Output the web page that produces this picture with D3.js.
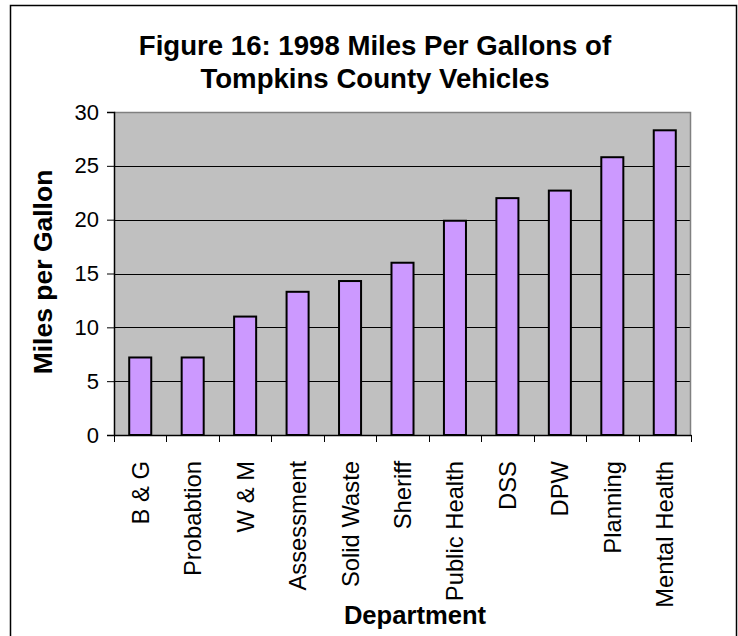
<!DOCTYPE html>
<html>
<head>
<meta charset="utf-8">
<script src="https://cdn.jsdelivr.net/npm/d3@7"></script>
<style>
  html, body { margin: 0; padding: 0; background: #fff; }
  svg { display: block; }
  text { font-family: "Liberation Sans", Arial, sans-serif; fill: #000; }
</style>
</head>
<body>
<svg id="chart" width="738" height="636"></svg>
<script>
// Department fuel economy, 1998
const departments = ["B & G", "Probabtion", "W & M", "Assessment", "Solid Waste", "Sheriff",
                     "Public Health", "DSS", "DPW", "Planning", "Mental Health"];
const milesPerGallon = [7.2, 7.2, 11.0, 13.3, 14.3, 16.0, 19.9, 22.0, 22.7, 25.8, 28.3];
const yTickValues = [0, 5, 10, 15, 20, 25, 30];
const titleLines = ["Figure 16: 1998 Miles Per Gallons of", "Tompkins County Vehicles"];

const svg = d3.select("#chart");
const plot = { left: 114, right: 691, top: 112, bottom: 435 };

// Outer chart frame
svg.append("rect")
  .attr("x", 10.5).attr("y", 5.5)
  .attr("width", 726).attr("height", 650)
  .attr("fill", "#fff").attr("stroke", "#000").attr("stroke-width", 1.5);

const x = d3.scaleBand().domain(departments).range([plot.left, plot.right]).padding(0);
const y = d3.scaleLinear().domain([0, 30]).range([plot.bottom, plot.top]);

// Plot area background
svg.append("rect")
  .attr("x", plot.left).attr("y", plot.top)
  .attr("width", plot.right - plot.left).attr("height", plot.bottom - plot.top)
  .attr("fill", "#C0C0C0");

// Horizontal gridlines
svg.append("g")
  .selectAll("line")
  .data(yTickValues.filter(v => v > 0 && v < 30))
  .join("line")
  .attr("x1", plot.left).attr("x2", plot.right)
  .attr("y1", d => Math.round(y(d)) + 0.5).attr("y2", d => Math.round(y(d)) + 0.5)
  .attr("stroke", "#000").attr("stroke-width", 1);

// Plot border (top and right)
svg.append("path")
  .attr("d", `M${plot.left},${plot.top + 0.5}H${plot.right - 0.5}V${plot.bottom}`)
  .attr("fill", "none").attr("stroke", "#808080").attr("stroke-width", 1.5);

// Bars
const barWidth = x.bandwidth() * 0.42;
svg.append("g")
  .selectAll("rect")
  .data(departments.map((d, i) => ({ dept: d, value: milesPerGallon[i] })))
  .join("rect")
  .attr("x", d => x(d.dept) + (x.bandwidth() - barWidth) / 2)
  .attr("y", d => y(d.value))
  .attr("width", barWidth)
  .attr("height", d => y(0) - y(d.value))
  .attr("fill", "#CC99FF")
  .attr("stroke", "#000")
  .attr("stroke-width", 2);

// Y axis
const yAxis = svg.append("g")
  .attr("transform", `translate(${plot.left},0)`)
  .call(d3.axisLeft(y).tickValues(yTickValues).tickSize(7).tickPadding(8));
yAxis.select(".domain").attr("stroke", "#000").attr("stroke-width", 1.5);
yAxis.selectAll(".tick line").attr("stroke", "#000");
yAxis.selectAll(".tick text")
  .attr("font-family", "Liberation Sans, Arial, sans-serif")
  .attr("font-size", 22).attr("fill", "#000");

// X axis: ticks at category boundaries
const xAxis = svg.append("g")
  .attr("transform", `translate(0,${plot.bottom})`)
  .call(d3.axisBottom(x).tickSize(0).tickPadding(0));
xAxis.select(".domain").attr("stroke", "#000").attr("stroke-width", 1.5);
xAxis.selectAll(".tick text").remove();
xAxis.selectAll(".boundary")
  .data(departments.concat([null]))
  .join("line")
  .attr("class", "boundary")
  .attr("x1", (d, i) => Math.round(plot.left + i * x.step()) + 0.5)
  .attr("x2", (d, i) => Math.round(plot.left + i * x.step()) + 0.5)
  .attr("y1", 0).attr("y2", 7)
  .attr("stroke", "#000");

// Rotated category labels
svg.append("g")
  .selectAll("text")
  .data(departments)
  .join("text")
  .attr("transform", d => `translate(${x(d) + x.bandwidth() / 2 + 8.5},${plot.bottom + 26}) rotate(-90)`)
  .attr("text-anchor", "end")
  .attr("font-size", 23.8)
  .text(d => d);

// Title
svg.append("g")
  .selectAll("text")
  .data(titleLines)
  .join("text")
  .attr("x", 375)
  .attr("y", (d, i) => 55 + i * 33)
  .attr("text-anchor", "middle")
  .attr("font-size", 27.6)
  .attr("font-weight", "bold")
  .text(d => d);

// Axis titles
svg.append("text")
  .attr("transform", `translate(52,272) rotate(-90)`)
  .attr("text-anchor", "middle")
  .attr("font-size", 26.5)
  .attr("font-weight", "bold")
  .text("Miles per Gallon");

svg.append("text")
  .attr("x", 415).attr("y", 624)
  .attr("text-anchor", "middle")
  .attr("font-size", 25.6)
  .attr("font-weight", "bold")
  .text("Department");
</script>
</body>
</html>
